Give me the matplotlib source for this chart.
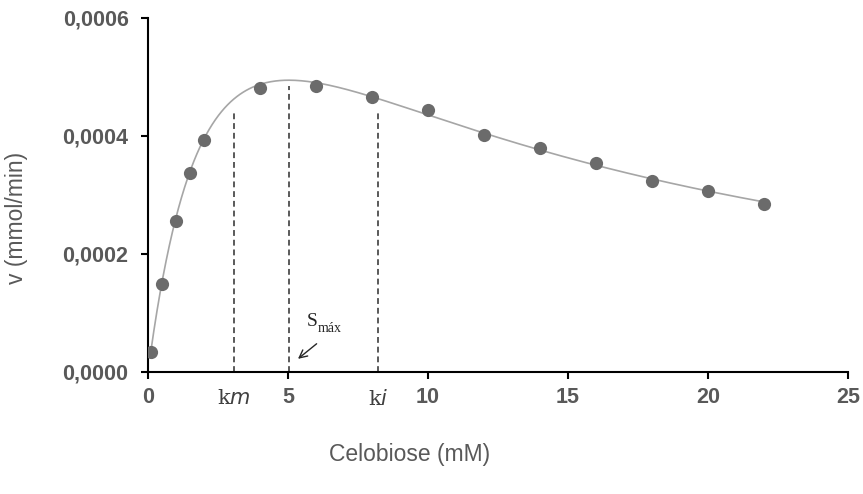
import matplotlib.pyplot as plt
import numpy as np
from matplotlib.patches import FancyArrowPatch
from matplotlib.ticker import FuncFormatter
import matplotlib.transforms as mtransforms

# Celobiose (mM) and initial rate v (mmol/min)
celobiose = [0.1, 0.5, 1, 1.5, 2, 4, 6, 8, 10, 12, 14, 16, 18, 20, 22]
rate = [0.0000344, 0.000149, 0.000256, 0.000338, 0.000393, 0.000482, 0.000485,
        0.000466, 0.000444, 0.000402, 0.000379, 0.000355, 0.000324, 0.000306, 0.000285]

# substrate inhibition fit: v = Vmax*S / (Km + S + S^2/Ki)
vmax = 0.0011
km = 3.08
ki = 8.22

# dashed guide lines: x position and top of the line
guide_x = [km, 5.04, ki]
guide_top = [0.000441, 0.000484, 0.000441]

x_ticks = [0, 5, 10, 15, 20, 25]
y_ticks = [0, 0.0002, 0.0004, 0.0006]

GRAY = '#595959'

fig = plt.figure(figsize=(8.63, 4.94), dpi=100)
ax = fig.add_axes([0.1715, 0.247, 0.811, 0.7166])

s = np.linspace(celobiose[0], celobiose[-1], 400)
ax.plot(s, vmax * s / (km + s + s ** 2 / ki), color='#a6a6a6', lw=1.2, zorder=2)
ax.plot(celobiose, rate, 'o', color='#6b6b6b', markersize=9.5, zorder=3,
        markeredgewidth=0)

for gx, gt in zip(guide_x, guide_top):
    ax.plot([gx, gx], [0, gt], color=GRAY, lw=1.4, ls=(0, (3, 2)), zorder=1)

ax.set_xlim(0, 25)
ax.set_ylim(0, 0.0006)
ax.set_xticks(x_ticks)
ax.set_yticks(y_ticks)
ax.yaxis.set_major_formatter(FuncFormatter(lambda v, p: ('%.4f' % v).replace('.', ',')))

for sp in ['top', 'right']:
    ax.spines[sp].set_visible(False)
for sp in ['left', 'bottom']:
    ax.spines[sp].set_linewidth(1.5)
    ax.spines[sp].set_color('black')

ax.tick_params(axis='both', direction='out', length=5, width=1.5, colors='black',
               labelcolor=GRAY, labelsize=15.5)
ax.tick_params(axis='y', pad=9)
ax.tick_params(axis='x', pad=6)
for lab in ax.get_xticklabels() + ax.get_yticklabels():
    lab.set_fontweight('bold')
    lab.set_family('Liberation Sans')

# km / ki labels under the axis
trans = mtransforms.blended_transform_factory(ax.transData, ax.transAxes)
ax.text(km, -0.075, r'k$m$', transform=trans, ha='center', va='center',
        fontsize=15, color='#404040', family='DejaVu Serif')
ax.text(ki, -0.075, r'k$i$', transform=trans, ha='center', va='center',
        fontsize=15, color='#404040', family='DejaVu Serif')

# S max annotation
ax.text(6.05, 0.000085, 'S', ha='right', va='center',
        fontsize=14, color='#262626', family='Liberation Serif')
ax.text(6.05, 0.000073, 'máx', ha='left', va='center',
        fontsize=10, color='#262626', family='Liberation Serif')
ax.add_patch(FancyArrowPatch((6.1, 0.0000508), (5.28, 0.0000193),
                             arrowstyle='->', mutation_scale=14, lw=1.0,
                             color='#262626'))

fig.text(0.475, 0.079, 'Celobiose (mM)', ha='center', va='center', fontsize=16.5,
         color=GRAY, family='Liberation Sans')
fig.text(0.019, 0.559, 'v (mmol/min)', ha='center', va='center', rotation=90,
         fontsize=16.5, color=GRAY, family='Liberation Sans')

fig.savefig('out.png', dpi=100)
